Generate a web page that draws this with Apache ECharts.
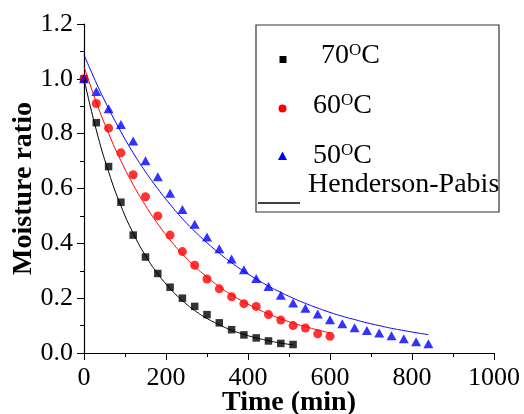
<!DOCTYPE html>
<html>
<head>
<meta charset="utf-8">
<script src="https://cdn.jsdelivr.net/npm/echarts@6/dist/echarts.min.js"></script>
<style>
  html, body { margin: 0; padding: 0; background: #fff; }
  #chart { width: 524px; height: 414px; }
</style>
</head>
<body>
<div id="chart"></div>
<script>
// Drying time (min) for each temperature
const time70 = [0, 30, 60, 90, 120, 150, 180, 210, 240, 270, 300, 330, 360, 390, 420, 450, 480, 510];
const time60 = [0, 30, 60, 90, 120, 150, 180, 210, 240, 270, 300, 330, 360, 390, 420, 450, 480, 510, 540, 570, 600];
const time50 = [0, 30, 60, 90, 120, 150, 180, 210, 240, 270, 300, 330, 360, 390, 420, 450, 480, 510, 540, 570, 600, 630, 660, 690, 720, 750, 780, 810, 840];

// Measured moisture ratio
const mr70 = [1.00, 0.84, 0.68, 0.55, 0.43, 0.35, 0.29, 0.24, 0.20, 0.17, 0.14, 0.11, 0.085, 0.066, 0.055, 0.044, 0.035, 0.031];
const mr60 = [1.00, 0.91, 0.82, 0.73, 0.65, 0.57, 0.50, 0.43, 0.37, 0.32, 0.27, 0.234, 0.205, 0.18, 0.17, 0.14, 0.12, 0.10, 0.091, 0.07, 0.061];
const mr50 = [1.00, 0.954, 0.891, 0.833, 0.773, 0.701, 0.643, 0.583, 0.523, 0.47, 0.423, 0.38, 0.343, 0.304, 0.272, 0.243, 0.211, 0.182, 0.163, 0.142, 0.121, 0.107, 0.092, 0.082, 0.073, 0.063, 0.052, 0.041, 0.034];

// Henderson-Pabis model curves at the same times
const fit70 = [1.000, 0.813, 0.661, 0.537, 0.437, 0.355, 0.289, 0.235, 0.191, 0.155, 0.126, 0.103, 0.083, 0.068, 0.055, 0.045, 0.036, 0.030];
const fit60 = [1.045, 0.915, 0.801, 0.701, 0.614, 0.538, 0.471, 0.412, 0.361, 0.316, 0.277, 0.242, 0.212, 0.186, 0.163, 0.142, 0.125, 0.109, 0.096, 0.084, 0.073];
const fit50 = [1.088, 0.985, 0.892, 0.807, 0.730, 0.661, 0.599, 0.542, 0.490, 0.444, 0.402, 0.364, 0.329, 0.298, 0.270, 0.244, 0.221, 0.200, 0.181, 0.164, 0.148, 0.134, 0.122, 0.110, 0.100, 0.090, 0.082, 0.074, 0.067];

// Axis ticks
const xTicks = [0, 200, 400, 600, 800, 1000];
const yTicks = [0.0, 0.2, 0.4, 0.6, 0.8, 1.0, 1.2];

const FONT = '"Liberation Serif", "Times New Roman", serif';

function pairs(xs, ys) {
  return ys.map((v, i) => [xs[i], v]);
}

const chart = echarts.init(document.getElementById('chart'), null, { renderer: 'canvas' });

const axisCommon = {
  axisLine: { show: true, lineStyle: { color: '#000', width: 1.2 } },
  axisTick: { show: true, inside: false, length: 7, lineStyle: { color: '#000', width: 1 } },
  minorTick: { show: true, splitNumber: 2, length: 4, lineStyle: { color: '#000', width: 1 } },
  splitLine: { show: false },
  nameMoveOverlap: false,
  nameTextStyle: { fontFamily: FONT, fontSize: 28, fontWeight: 'bold', color: '#000' }
};

const legendText = (x, y, text) => ({
  type: 'text',
  x: x, y: y,
  style: {
    text: text,
    fontFamily: FONT, fontSize: 28, fill: '#000',
    verticalAlign: 'middle',
    rich: {
      sup: { fontFamily: FONT, fontSize: 17, fill: '#000', verticalAlign: 'top' }
    }
  }
});

const option = {
  animation: false,
  backgroundColor: '#fff',
  grid: { left: 84, right: 30, top: 24, bottom: 61, containLabel: false, outerBoundsMode: 'none' },
  xAxis: Object.assign({}, axisCommon, {
    type: 'value',
    min: xTicks[0], max: xTicks[xTicks.length - 1], interval: 200,
    name: 'Time (min)', nameLocation: 'middle', nameGap: 36,
    axisLabel: { fontFamily: FONT, fontSize: 26, color: '#000', margin: 12,
      formatter: v => String(v) }
  }),
  yAxis: Object.assign({}, axisCommon, {
    type: 'value',
    min: yTicks[0], max: yTicks[yTicks.length - 1], interval: 0.2,
    name: 'Moisture ratio', nameLocation: 'middle', nameGap: 46,
    axisLabel: { fontFamily: FONT, fontSize: 26, color: '#000', margin: 11,
      formatter: v => v.toFixed(1) }
  }),
  series: [
    { name: '70°C', type: 'scatter', symbol: 'rect', symbolSize: 7.5,
      itemStyle: { color: '#000' }, data: pairs(time70, mr70), z: 3 },
    { name: '60°C', type: 'scatter', symbol: 'circle', symbolSize: 9,
      itemStyle: { color: '#ff0000' }, data: pairs(time60, mr60), z: 3 },
    { name: '50°C', type: 'scatter', symbol: 'triangle', symbolSize: [10, 9],
      itemStyle: { color: '#0000ff' }, data: pairs(time50, mr50), z: 3 },
    { name: 'Henderson-Pabis', type: 'line', smooth: true, showSymbol: false,
      lineStyle: { color: '#000', width: 1 }, data: pairs(time70, fit70), z: 4 },
    { name: 'Henderson-Pabis', type: 'line', smooth: true, showSymbol: false,
      lineStyle: { color: '#ff0000', width: 1 }, data: pairs(time60, fit60), z: 4 },
    { name: 'Henderson-Pabis', type: 'line', smooth: true, showSymbol: false,
      lineStyle: { color: '#0000ff', width: 1 }, data: pairs(time50, fit50), z: 4 }
  ],
  graphic: [
    // legend frame
    { type: 'rect', shape: { x: 256, y: 25, width: 243, height: 187 },
      style: { fill: '#fff', stroke: '#333', lineWidth: 1.2 }, z: 10 },
    // legend keys
    { type: 'rect', shape: { x: 279.5, y: 56, width: 7, height: 7 },
      style: { fill: '#000' }, z: 11 },
    { type: 'circle', shape: { cx: 282.5, cy: 108.5, r: 4 },
      style: { fill: '#ff0000' }, z: 11 },
    { type: 'polygon', shape: { points: [[282.5, 151.5], [287, 160], [278, 160]] },
      style: { fill: '#0000ff' }, z: 11 },
    { type: 'line', shape: { x1: 258, y1: 203, x2: 300, y2: 203 },
      style: { stroke: '#000', lineWidth: 1.3 }, z: 11 },
    Object.assign(legendText(321, 56, '70{sup|O}C'), { z: 11 }),
    Object.assign(legendText(313, 106, '60{sup|O}C'), { z: 11 }),
    Object.assign(legendText(313, 156, '50{sup|O}C'), { z: 11 }),
    { type: 'text', x: 308, y: 185, z: 11,
      style: { text: 'Henderson-Pabis', fontFamily: FONT, fontSize: 28, fill: '#000',
        verticalAlign: 'middle' } }
  ]
};

chart.setOption(option);
</script>
</body>
</html>
